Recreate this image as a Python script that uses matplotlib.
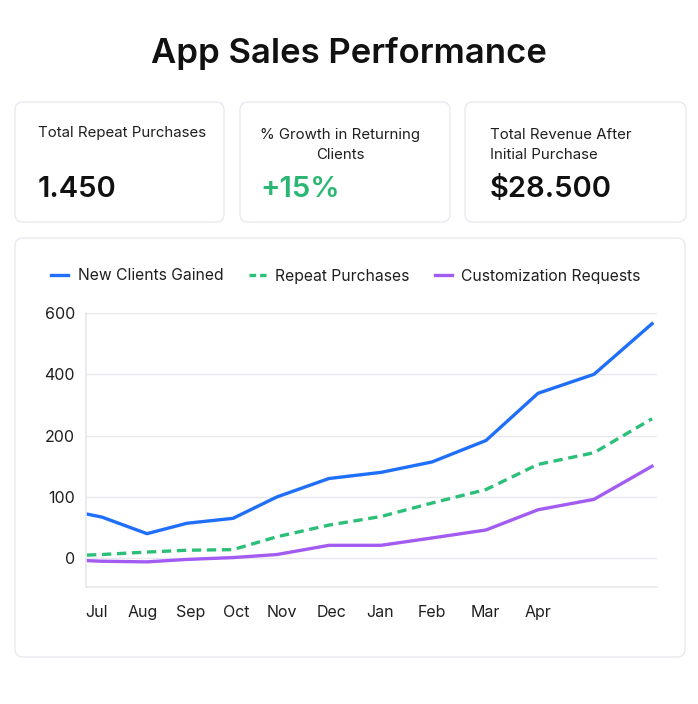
import numpy as np
import matplotlib
matplotlib.use("Agg")
import matplotlib.pyplot as plt
from matplotlib.patches import FancyBboxPatch
from matplotlib.transforms import Affine2D
from matplotlib.lines import Line2D

W, H = 698, 704

# data
x_pos = [1, 16, 61, 101, 147, 191, 243, 295, 346, 400, 452, 508, 566]
new_clients = [72, 67, 40, 57, 65, 100, 130, 140, 157, 192, 338, 400, 565]
repeat_purchases = [5, 6, 10, 13, 14, 35, 54, 68, 90, 112, 153, 172, 255]
custom_requests = [-4, -5, -6, -2, 1, 6, 21, 21, 33, 46, 79, 96, 150]

month_labels = ["Jul", "Aug", "Sep", "Oct", "Nov", "Dec", "Jan", "Feb", "Mar", "Apr"]
month_ticks = [10, 57, 105, 150, 196, 245, 294, 346, 399, 452]
y_ticks = [0, 100, 200, 400, 600]

kpi_labels = ["Total Repeat Purchases", "% Growth in Returning\nClients",
              "Total Revenue After\nInitial Purchase"]
kpi_values = ["1.450", "+15%", "$28.500"]

plt.rcParams['font.family'] = ['Inter', 'DejaVu Sans']

fig = plt.figure(figsize=(W / 100, H / 100), dpi=100)
fig.patch.set_facecolor("white")
# pixel coords, origin top-left
px = Affine2D().scale(1, -1).translate(0, H)


def card(x0, y0, x1, y1):
    # y0/y1 are top/bottom in top-left pixel coords
    p = FancyBboxPatch((x0, H - y1), x1 - x0, y1 - y0,
                       boxstyle="round,pad=0,rounding_size=8",
                       facecolor="white", edgecolor="#e8eaf0",
                       linewidth=1.0, transform=None, zorder=0)
    fig.patches.append(p)


fig.text(349, 53, "App Sales Performance", transform=px, ha="center", va="center",
         fontsize=25, fontweight="semibold", color="#111111")

# kpi cards
card(15, 102, 224, 222)
card(240, 102, 450, 222)
card(465, 102, 686, 222)

txt = dict(transform=px, fontsize=10.8, color="#1f1f1f", linespacing=1.55)
fig.text(38, 137.5, kpi_labels[0], ha="left", va="baseline", **txt)
fig.text(340, 159, kpi_labels[1], ha="center", va="baseline", multialignment="center", **txt)
fig.text(490, 159, kpi_labels[2], ha="left", va="baseline", multialignment="left", **txt)

val = dict(transform=px, fontsize=21, fontweight="semibold", va="baseline")
fig.text(38, 197, kpi_values[0], ha="left", color="#111111", **val)
fig.text(260, 197, kpi_values[1], ha="left", color="#2bb673", **val)
fig.text(490, 197, kpi_values[2], ha="left", color="#111111", **val)

# chart card
card(15, 238, 685, 657)

ax = fig.add_axes([86 / W, 1 - 587 / H, (657 - 86) / W, (587 - 313) / H])
ax.set_zorder(2)
ax.patch.set_alpha(0)

# y axis: evenly spaced ticks 0,100,200,400,600
yv = [-1000, 0, 100, 200, 400, 600, 2000]
yp = [-10, 0, 1, 2, 3, 4, 11]
ax.set_yscale("function", functions=(lambda v: np.interp(v, yv, yp),
                                     lambda p: np.interp(p, yp, yv)))

blue, green, purple = "#1f6ffb", "#2bbf78", "#a35cf2"
ax.plot(x_pos, new_clients, color=blue, lw=2.4, solid_joinstyle="round")
ax.plot(x_pos, repeat_purchases, color=green, lw=2.4, dashes=(2.8, 1.7))
ax.plot(x_pos, custom_requests, color=purple, lw=2.4, solid_joinstyle="round")

ax.set_xlim(0, 571)
ax.set_ylim(-47, 600)
ax.set_yticks(y_ticks)
ax.set_yticklabels([str(v) for v in y_ticks])
ax.set_xticks(month_ticks)
ax.set_xticklabels(month_labels)
ax.grid(axis="y", color="#e6e8ee", lw=1)
ax.set_axisbelow(True)
for s in ["top", "right"]:
    ax.spines[s].set_visible(False)
for s in ["left", "bottom"]:
    ax.spines[s].set_color("#e6e8ee")
    ax.spines[s].set_linewidth(1.2)
ax.tick_params(axis="both", length=0, labelsize=11.5, labelcolor="#1f1f1f")
ax.tick_params(axis="y", pad=8)
ax.tick_params(axis="x", pad=13)

handles = [Line2D([], [], color=blue, lw=2.4),
           Line2D([], [], color=green, lw=2.4, dashes=(2.0, 1.2)),
           Line2D([], [], color=purple, lw=2.4)]
fig.legend(handles, ["New Clients Gained", "Repeat Purchases", "Customization Requests"],
           loc="center", bbox_to_anchor=(346 / W, 1 - 276 / H), ncol=3, frameon=False,
           fontsize=11.3, handlelength=1.1, handletextpad=0.6, columnspacing=1.6,
           labelcolor="#1f1f1f")

fig.savefig("out.png", dpi=100, facecolor="white")
